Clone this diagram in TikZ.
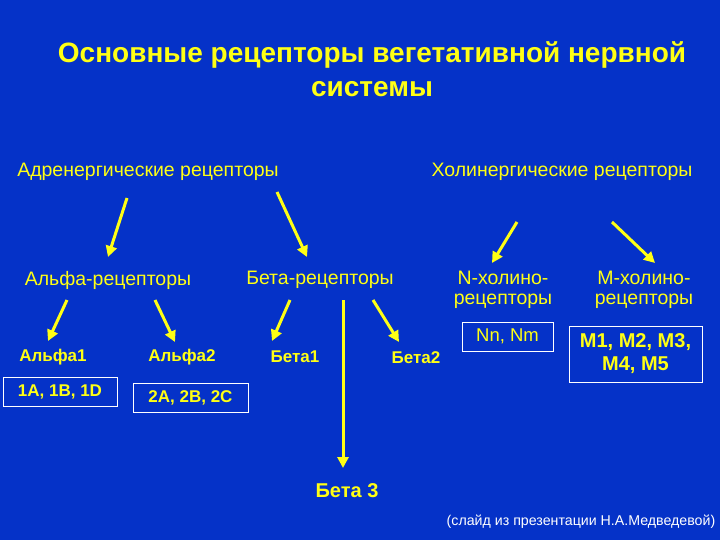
\documentclass[tikz,border=0pt]{standalone}
\usepackage{fontspec}
\setmainfont{Liberation Sans}
\usetikzlibrary{calc}
\usetikzlibrary{arrows.meta}
\definecolor{slideblue}{RGB}{5,50,200}
\definecolor{slideyellow}{RGB}{255,255,20}

\begin{document}
\begin{tikzpicture}[x=1pt, y=-1pt,
		every node/.style={text=slideyellow, inner sep=0pt},
		level/.style={font=\fontsize{19.5}{20.5}\selectfont, align=center},
		sub/.style={font=\fontsize{17}{20}\selectfont\bfseries},
		subbox/.style={draw=white, line width=0.8pt, font=\fontsize{17}{20}\selectfont\bfseries},
		arr/.style={draw=slideyellow, line width=3pt, -{Triangle[length=11pt,width=11pt]}}]
				% Slide background
				\fill[slideblue] (0,0) rectangle (720,540);
				
				% Title
				\node[font=\fontsize{28}{34}\selectfont\bfseries, align=center] (title) at (372,69) {Основные рецепторы вегетативной нервной\\системы};
				
				% Top level
				\node[level] (adr) at (148,172) {Адренергические рецепторы};
				\node[level] (chol) at (562,172) {Холинергические рецепторы};
				
				% Second level
				\node[level] (alpha) at (108,280) {Альфа-рецепторы};
				\node[level] (beta) at (320,280) {Бета-рецепторы};
				\node[level] (nchol) at (503,290) {N-холино-\\рецепторы};
				\node[level] (mchol) at (644,290) {M-холино-\\рецепторы};
				
				% Subtypes
				\node[sub] (alpha1) at (53,357) {Альфа1};
				\node[sub] (alpha2) at (182,357) {Альфа2};
				\node[sub] (beta1) at (295,357) {Бета1};
				\node[sub] (beta2) at (416,358) {Бета2};
				\node[sub, font=\fontsize{20}{24}\selectfont\bfseries] (beta3) at (347,491) {Бета 3};
				
				% Boxes
				\node[subbox, minimum width=114pt, minimum height=29pt] (boxa1) at (60,391.5) {1A, 1B, 1D};
				\node[subbox, minimum width=115pt, minimum height=29pt] (boxa2) at (190.5,397.5) {2A, 2B, 2C};
				\node[subbox, minimum width=91pt, minimum height=29pt, font=\fontsize{18.5}{20}\selectfont] (boxn) at (507.5,336.5) {Nn, Nm};
				\node[subbox, minimum width=133pt, minimum height=56pt, align=center, font=\fontsize{20}{23}\selectfont\bfseries] (boxm) at (635.5,354) {M1, M2, M3,\\M4, M5};
				
				% Arrows
				\draw[arr] ($(adr)+(-21,26)$) -- ($(alpha)+(0,-23)$);
				\draw[arr] ($(adr)+(129,20)$) -- ($(beta)+(-13,-23)$);
				\draw[arr] ($(chol)+(-45,50)$) -- ($(nchol)+(-11,-27)$);
				\draw[arr] ($(chol)+(50,50)$) -- ($(mchol)+(11,-27)$);
				\draw[arr] ($(alpha)+(-41,20)$) -- ($(alpha1)+(-5,-16)$);
				\draw[arr] ($(alpha)+(47,20)$) -- ($(alpha2)+(-7,-15)$);
				\draw[arr] ($(beta)+(-30,20)$) -- ($(beta1)+(-23,-16)$);
				\draw[arr] ($(beta)+(23,20)$) -- ($(beta3)+(-4,-23)$);
				\draw[arr] ($(beta)+(53,20)$) -- ($(beta2)+(-17,-16)$);
				
				% Source note
				\node[text=white, font=\fontsize{14.2}{16}\selectfont] (note) at (581,522) {(слайд из презентации Н.А.Медведевой)};
			\end{tikzpicture}
\end{document}
